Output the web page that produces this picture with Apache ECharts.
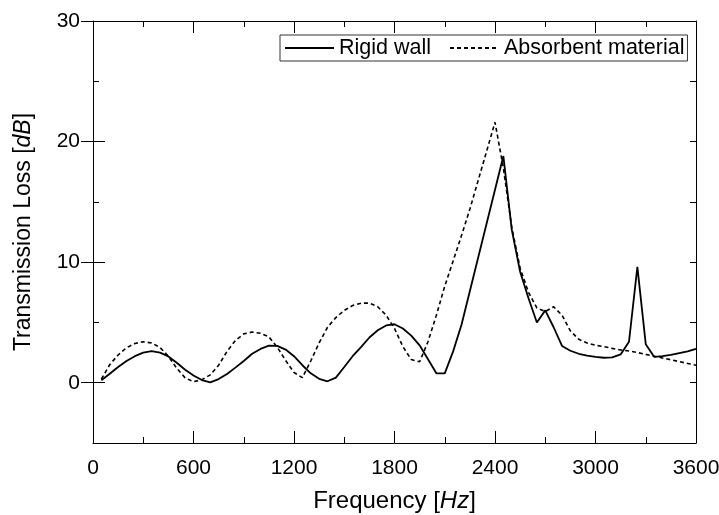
<!DOCTYPE html>
<html>
<head>
<meta charset="utf-8">
<script src="https://cdn.jsdelivr.net/npm/echarts@6.0.0/dist/echarts.min.js"></script>
<style>
  html, body { margin: 0; padding: 0; background: #fff; }
  #chart_tl { width: 719px; height: 515px; }
</style>
</head>
<body>
<div id="chart_tl"></div>
<script>
  // frequency samples [Hz]
  var freq = [50,100,150,200,250,300,350,400,450,500,550,600,650,700,750,800,850,900,950,1000,
    1050,1100,1150,1200,1250,1300,1350,1400,1450,1500,1550,1600,1650,1700,1750,1800,1850,1900,1950,2000,
    2050,2100,2150,2200,2250,2300,2350,2400,2450,2500,2550,2600,2650,2700,2750,2800,2850,2900,2950,3000,
    3050,3100,3150,3200,3250,3300,3350,3400,3450,3500,3550,3600];
  // transmission loss [dB]
  var rigidWall = [0.2,0.75,1.3,1.8,2.2,2.5,2.62,2.5,2.18,1.65,1.08,0.6,0.22,0.03,0.3,0.72,1.25,1.8,2.4,2.8,
    3.08,3.05,2.75,2.2,1.45,0.78,0.32,0.12,0.42,1.3,2.2,2.95,3.75,4.35,4.75,4.85,4.5,3.9,3.1,1.95,
    0.78,0.78,2.6,4.8,7.6,10.4,13.2,16.0,18.8,12.7,9.2,7.0,5.0,6.0,4.6,3.05,2.65,2.4,2.25,2.15,
    2.07,2.1,2.35,3.4,9.6,3.2,2.15,2.2,2.3,2.45,2.6,2.8];
  var absorbent = [0.3,1.5,2.3,2.9,3.25,3.4,3.3,2.92,2.2,1.2,0.4,0.08,0.25,0.65,1.45,2.6,3.5,4.05,4.2,4.1,
    3.8,2.95,1.85,0.85,0.42,1.8,3.3,4.6,5.4,6.0,6.4,6.6,6.6,6.3,5.6,4.5,3.0,1.92,1.74,3.4,
    5.6,8.0,10.1,12.2,14.4,16.8,19.2,21.6,17.8,12.9,9.5,7.5,6.2,5.9,6.3,5.6,4.3,3.6,3.3,3.1,
    3.0,2.85,2.72,2.63,2.5,2.35,2.2,2.05,1.9,1.75,1.6,1.45];
  var yMajor = [0, 10, 20, 30];

  var font = "'Liberation Sans', Arial, sans-serif";

  function pairs(xs, ys) {
    return xs.map(function (x, i) { return [x, ys[i]]; });
  }
  function plain(v) { return String(v); }

  var axisLine = { show: true, onZero: false, lineStyle: { color: '#000', width: 1 } };

  var myChart = echarts.init(document.getElementById('chart_tl'));
  var option = {
    animation: false,
    backgroundColor: '#fff',
    textStyle: { fontFamily: font },
    grid: { left: 93, top: 21, width: 603, height: 422, outerBoundsMode: 'none', containLabel: false },
    legend: {
      data: ['Rigid wall', 'Absorbent material'],
      left: 280,
      top: 35,
      orient: 'horizontal',
      padding: [2, 3, 2, 4],
      itemWidth: 49,
      itemHeight: 20,
      itemGap: 18,
      borderColor: '#333',
      borderWidth: 1,
      backgroundColor: '#fff',
      itemStyle: { opacity: 0 },
      textStyle: { fontFamily: font, fontSize: 21.5, color: '#000', lineHeight: 22 }
    },
    xAxis: [
      {
        type: 'value', position: 'bottom', min: 0, max: 3600, interval: 600,
        axisLine: axisLine,
        axisTick: { inside: true, length: 12, lineStyle: { color: '#000' } },
        minorTick: { show: true, splitNumber: 2, length: 6, lineStyle: { color: '#000' } },
        splitLine: { show: false },
        axisLabel: { fontFamily: font, fontSize: 21, color: '#000', margin: 15, formatter: plain },
        name: 'Frequency [{i|Hz}]',
        nameLocation: 'middle',
        nameGap: 46,
        nameTextStyle: {
          fontFamily: font, fontSize: 24, color: '#000',
          rich: { i: { fontFamily: font, fontSize: 24, fontStyle: 'italic', color: '#000' } }
        }
      },
      {
        type: 'value', position: 'top', min: 0, max: 3600, interval: 600,
        axisLine: axisLine,
        axisTick: { inside: true, length: 12, lineStyle: { color: '#000' } },
        minorTick: { show: true, splitNumber: 2, length: 6, lineStyle: { color: '#000' } },
        splitLine: { show: false },
        axisLabel: { show: false }
      }
    ],
    yAxis: [
      {
        type: 'value', position: 'left', min: -5, max: 30, interval: 5,
        axisLine: axisLine,
        axisTick: { inside: true, length: 6, lineStyle: { color: '#000' } },
        splitLine: { show: false },
        axisLabel: { show: false }
      },
      {
        type: 'value', position: 'left', min: -5, max: 30, interval: 5,
        axisLine: { show: false },
        axisTick: { inside: true, length: 12, customValues: yMajor, lineStyle: { color: '#000' } },
        splitLine: { show: false },
        axisLabel: { customValues: yMajor, fontFamily: font, fontSize: 21, color: '#000', margin: 13, formatter: plain },
        name: 'Transmission Loss [{i|dB}]',
        nameLocation: 'middle',
        nameGap: 58,
        nameTextStyle: {
          fontFamily: font, fontSize: 23, color: '#000',
          rich: { i: { fontFamily: font, fontSize: 23, fontStyle: 'italic', color: '#000' } }
        }
      },
      {
        type: 'value', position: 'right', min: -5, max: 30, interval: 5,
        axisLine: axisLine,
        axisTick: { inside: true, length: 6, lineStyle: { color: '#000' } },
        splitLine: { show: false },
        axisLabel: { show: false }
      },
      {
        type: 'value', position: 'right', min: -5, max: 30, interval: 5,
        axisLine: { show: false },
        axisTick: { inside: true, length: 12, customValues: yMajor, lineStyle: { color: '#000' } },
        splitLine: { show: false },
        axisLabel: { show: false }
      }
    ],
    series: [
      {
        name: 'Rigid wall',
        type: 'line',
        xAxisIndex: 0,
        yAxisIndex: 0,
        symbol: 'none',
        smooth: false,
        data: pairs(freq, rigidWall),
        lineStyle: { color: '#000', width: 1.8, type: 'solid' },
        itemStyle: { color: '#000' }
      },
      {
        name: 'Absorbent material',
        type: 'line',
        xAxisIndex: 0,
        yAxisIndex: 0,
        symbol: 'none',
        smooth: false,
        data: pairs(freq, absorbent),
        lineStyle: { color: '#000', width: 1.6, type: [4, 3] },
        itemStyle: { color: '#000' }
      }
    ]
  };
  myChart.setOption(option);
</script>
</body>
</html>
